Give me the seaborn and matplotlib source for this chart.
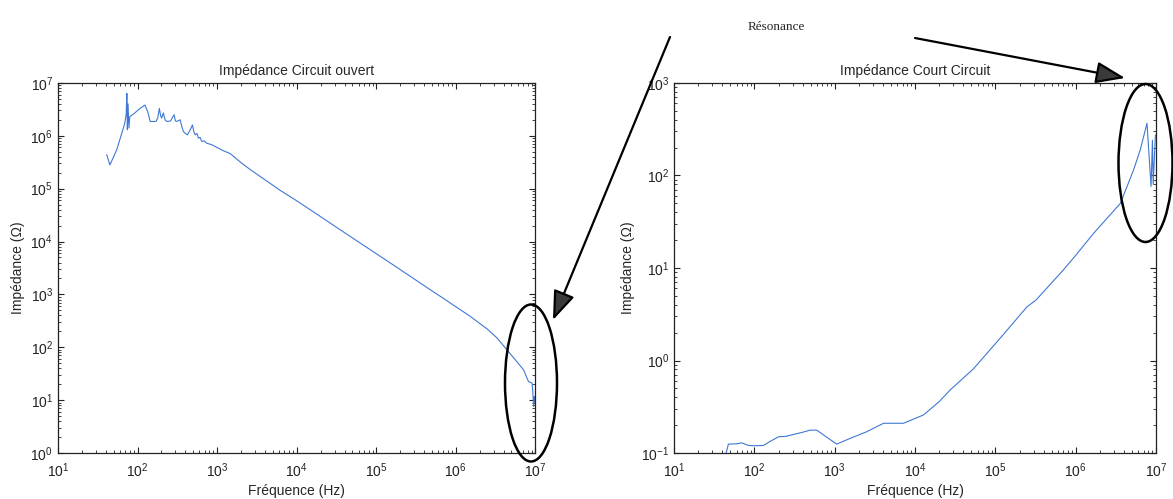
import numpy as np
import pandas as pd
import seaborn as sns
import matplotlib.pyplot as plt
from matplotlib.patches import Ellipse, FancyArrowPatch
from matplotlib.ticker import LogLocator, NullFormatter

# open circuit impedance
freq_open = [41, 45, 55, 69, 72, 73.5, 74.5, 76, 78, 80, 90, 105, 124, 135, 144,
             171, 180, 188, 195, 201, 211, 222, 233, 260, 288, 300, 311, 343, 360,
             377, 400, 424, 460, 490, 510, 529, 560, 582, 610, 642, 690, 742, 850,
             1000, 1200, 1460, 2000, 2600, 3800, 6000, 1e4, 2e4, 3e4, 6e4, 1e5,
             2e5, 3e5, 5e5, 7e5, 1e6, 1.5e6, 2.5e6, 3.3e6, 4.2e6, 5.5e6, 7.1e6,
             8.2e6, 9.1e6, 9.3e6, 9.5e6, 9.7e6, 1e7]
z_open = [4.4e5, 2.8e5, 5.5e5, 1.7e6, 2.5e6, 6.3e6, 1.3e6, 4.0e6, 1.4e6, 2.3e6,
          2.6e6, 3.2e6, 3.8e6, 2.8e6, 1.86e6, 1.86e6, 2.2e6, 3.3e6, 2.4e6, 2.15e6,
          2.7e6, 2.0e6, 1.86e6, 1.9e6, 2.5e6, 1.9e6, 1.86e6, 2.0e6, 1.5e6, 1.2e6,
          1.1e6, 1.04e6, 1.3e6, 1.6e6, 1.2e6, 1.04e6, 1.1e6, 9.0e5, 9.3e5, 7.8e5,
          8.0e5, 7.2e5, 6.8e5, 6.0e5, 5.2e5, 4.6e5, 3.1e5, 2.3e5, 1.55e5, 9.6e4,
          5.9e4, 2.95e4, 1.96e4, 9.8e3, 5.9e3, 2.95e3, 1.96e3, 1.17e3, 840, 585,
          390, 220, 150, 97, 60, 37.6, 22.5, 21, 14, 7.6, 11.8, 9]

# short circuit impedance
freq_short = [44.5, 47.5, 60, 70, 84, 100, 130, 160, 200, 250, 306, 400, 494, 598,
              800, 1060, 1550, 2500, 4050, 7180, 1.27e4, 2.0e4, 2.73e4, 5.3e4,
              1.23e5, 2.47e5, 3.2e5, 7.0e5, 1.02e6, 1.67e6, 3.6e6, 5.25e6, 6.35e6,
              7.7e6, 8.65e6, 9.0e6, 9.2e6, 9.8e6]
z_short = [0.1, 0.125, 0.126, 0.129, 0.121, 0.12, 0.121, 0.135, 0.15, 0.152, 0.159,
           0.168, 0.177, 0.177, 0.148, 0.125, 0.144, 0.17, 0.21, 0.21, 0.258, 0.36,
           0.48, 0.81, 1.87, 3.8, 4.5, 9.5, 14, 23.7, 50, 115, 189, 366, 76, 240,
           80, 274]

titles = ["Impédance Circuit ouvert", "Impédance Court Circuit"]
xlabel = "Fréquence (Hz)"
ylabel = "Impédance (Ω)"
note = "Résonance"

LINE = "#3f78d4"
W, H = 1173, 499


def fxy(x, y):
    # page pixel (from top-left) -> figure fraction
    return x / W, 1 - y / H


def style_axis(ax, ylim):
    ax.set_xscale("log")
    ax.set_yscale("log")
    ax.set_xlim(10, 1e7)
    ax.set_ylim(*ylim)
    ax.xaxis.set_major_locator(LogLocator(base=10, numticks=20))
    ax.yaxis.set_major_locator(LogLocator(base=10, numticks=20))
    ax.xaxis.set_minor_locator(LogLocator(base=10, subs=np.arange(2, 10), numticks=20))
    ax.yaxis.set_minor_locator(LogLocator(base=10, subs=np.arange(2, 10), numticks=20))
    ax.xaxis.set_minor_formatter(NullFormatter())
    ax.yaxis.set_minor_formatter(NullFormatter())
    ax.tick_params(which="both", direction="in", top=True, right=True, labelsize=10,
                   colors="#222222")
    ax.tick_params(which="major", length=4)
    ax.tick_params(which="minor", length=2)
    ax.tick_params(axis="x", pad=6)
    for s in ax.spines.values():
        s.set_color("#222222")
        s.set_linewidth(0.9)
    ax.set_xlabel(xlabel, fontsize=10, labelpad=3)
    ax.set_ylabel(ylabel, fontsize=10, labelpad=4)


def main():
    sns.set_style("ticks")
    plt.rcParams["font.family"] = ["Liberation Sans", "DejaVu Sans"]

    fig = plt.figure(figsize=(11.73, 4.99), dpi=100)
    ax1 = fig.add_axes([0.0494, 0.092, 0.407, 0.742])
    ax2 = fig.add_axes([0.5746, 0.092, 0.411, 0.742])

    df_open = pd.DataFrame({"f": freq_open, "z": z_open})
    df_short = pd.DataFrame({"f": freq_short, "z": z_short})

    sns.lineplot(data=df_open, x="f", y="z", ax=ax1, color=LINE, lw=0.8,
                 estimator=None, sort=False)
    sns.lineplot(data=df_short, x="f", y="z", ax=ax2, color=LINE, lw=0.8,
                 estimator=None, sort=False)

    style_axis(ax1, (1, 1e7))
    style_axis(ax2, (0.1, 1e3))
    ax1.set_title(titles[0], fontsize=10, pad=6)
    ax2.set_title(titles[1], fontsize=10, pad=6)

    # hand-drawn annotations on top of the page
    for cx, cy, w, h in [(531, 383, 52, 157), (1145.5, 163, 54, 158)]:
        fig.add_artist(Ellipse(fxy(cx, cy), w / W, h / H, transform=fig.transFigure,
                               fill=False, ec="black", lw=1.8, zorder=10))

    for start, tip in [((670, 37), (553, 320)), ((915, 38), (1125, 78))]:
        fig.add_artist(FancyArrowPatch(fxy(*start), fxy(*tip), transform=fig.transFigure,
                                       arrowstyle="-|>,head_length=0.75,head_width=0.28",
                                       mutation_scale=24, lw=1.6, color="black",
                                       fc="#3a3a3a", shrinkA=0, shrinkB=0, zorder=10))

    fig.text(*fxy(776, 27), note, ha="center", va="center", fontsize=9.5,
             family=["Liberation Serif", "DejaVu Serif"])

    fig.savefig("out.png", dpi=100)


if __name__ == "__main__":
    main()
